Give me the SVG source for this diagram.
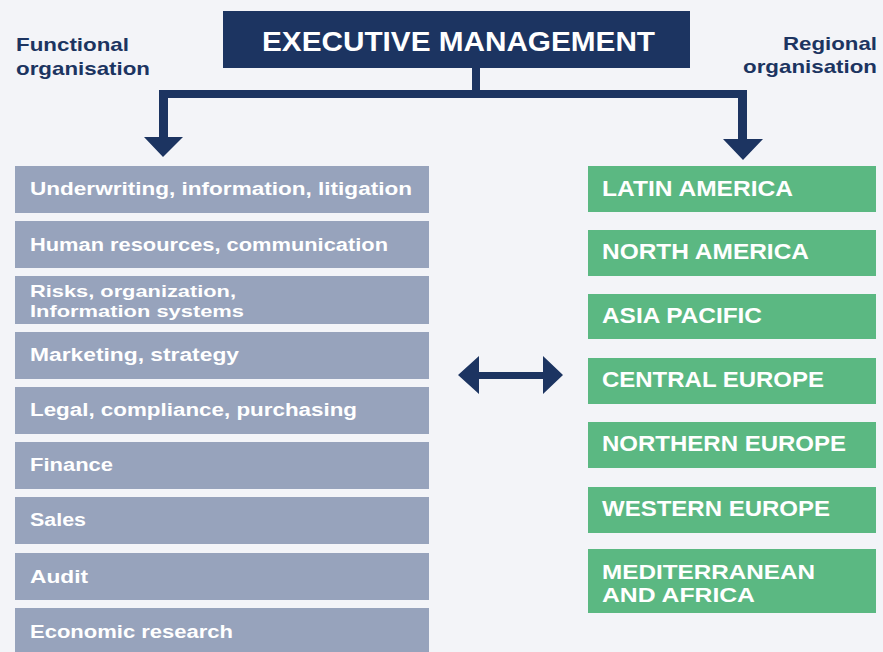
<svg xmlns="http://www.w3.org/2000/svg" width="883" height="652" viewBox="0 0 883 652">
<style>
.bg{fill:#f3f4f8}
.navy{fill:#1c3461}
.fbox{fill:#97a3bc}
.rbox{fill:#5bb882}
.t{font-family:"Liberation Sans",Arial,sans-serif;font-weight:bold;fill:#ffffff}
.ft{font-size:18px}
.rt{font-size:22px}
.lab{font-family:"Liberation Sans",Arial,sans-serif;font-weight:bold;font-size:19px;fill:#1c3461}
</style>
<rect class="bg" x="0" y="0" width="883" height="652"/>
<g id="label-functional">
<text class="lab" x="16" y="51" textLength="113" lengthAdjust="spacingAndGlyphs">Functional</text>
<text class="lab" x="16" y="75" textLength="134" lengthAdjust="spacingAndGlyphs">organisation</text>
</g>
<g id="label-regional">
<text class="lab" x="877" y="50" text-anchor="end" textLength="94" lengthAdjust="spacingAndGlyphs">Regional</text>
<text class="lab" x="877" y="73" text-anchor="end" textLength="134" lengthAdjust="spacingAndGlyphs">organisation</text>
</g>
<g id="exec">
<rect class="navy" x="223" y="11" width="467" height="57"/>
<text class="t" x="262" y="51" font-size="28" textLength="393" lengthAdjust="spacingAndGlyphs">EXECUTIVE MANAGEMENT</text>
</g>
<g id="connectors">
<path class="navy" d="M472,68 H480 V90 H747 V139 H763 L743,160 L723,139 H738 V98 H168 V137 H183 L163,157 L144,137 H159 V90 H472 Z"/>
<path class="navy" d="M458,375 L479,356 V372 H543 V356 L563,375 L543,394 V379 H479 V394 Z"/>
</g>
<g id="f1"><rect class="fbox" x="15" y="166" width="414" height="47"/><text class="t ft" x="30" y="195" textLength="382" lengthAdjust="spacingAndGlyphs">Underwriting, information, litigation</text></g>
<g id="f2"><rect class="fbox" x="15" y="221" width="414" height="47"/><text class="t ft" x="30" y="251" textLength="358" lengthAdjust="spacingAndGlyphs">Human resources, communication</text></g>
<g id="f3"><rect class="fbox" x="15" y="276" width="414" height="48"/><text class="t" font-size="17" x="30" y="297" textLength="206" lengthAdjust="spacingAndGlyphs">Risks, organization,</text><text class="t" font-size="17" x="30" y="317" textLength="214" lengthAdjust="spacingAndGlyphs">Information systems</text></g>
<g id="f4"><rect class="fbox" x="15" y="332" width="414" height="47"/><text class="t ft" x="30" y="361" textLength="209" lengthAdjust="spacingAndGlyphs">Marketing, strategy</text></g>
<g id="f5"><rect class="fbox" x="15" y="387" width="414" height="47"/><text class="t ft" x="30" y="416" textLength="327" lengthAdjust="spacingAndGlyphs">Legal, compliance, purchasing</text></g>
<g id="f6"><rect class="fbox" x="15" y="442" width="414" height="47"/><text class="t ft" x="30" y="471" textLength="83" lengthAdjust="spacingAndGlyphs">Finance</text></g>
<g id="f7"><rect class="fbox" x="15" y="497" width="414" height="47"/><text class="t ft" x="30" y="526" textLength="56" lengthAdjust="spacingAndGlyphs">Sales</text></g>
<g id="f8"><rect class="fbox" x="15" y="553" width="414" height="47"/><text class="t ft" x="30" y="583" textLength="58" lengthAdjust="spacingAndGlyphs">Audit</text></g>
<g id="f9"><rect class="fbox" x="15" y="608" width="414" height="47"/><text class="t ft" x="30" y="638" textLength="203" lengthAdjust="spacingAndGlyphs">Economic research</text></g>
<g id="r1"><rect class="rbox" x="588" y="166" width="288" height="46"/><text class="t rt" x="602" y="196" textLength="191" lengthAdjust="spacingAndGlyphs">LATIN AMERICA</text></g>
<g id="r2"><rect class="rbox" x="588" y="230" width="288" height="46"/><text class="t rt" x="602" y="259" textLength="207" lengthAdjust="spacingAndGlyphs">NORTH AMERICA</text></g>
<g id="r3"><rect class="rbox" x="588" y="294" width="288" height="45"/><text class="t rt" x="602" y="323" textLength="160" lengthAdjust="spacingAndGlyphs">ASIA PACIFIC</text></g>
<g id="r4"><rect class="rbox" x="588" y="358" width="288" height="46"/><text class="t rt" x="602" y="387" textLength="222" lengthAdjust="spacingAndGlyphs">CENTRAL EUROPE</text></g>
<g id="r5"><rect class="rbox" x="588" y="422" width="288" height="46"/><text class="t rt" x="602" y="451" textLength="244" lengthAdjust="spacingAndGlyphs">NORTHERN EUROPE</text></g>
<g id="r6"><rect class="rbox" x="588" y="487" width="288" height="46"/><text class="t rt" x="602" y="516" textLength="228" lengthAdjust="spacingAndGlyphs">WESTERN EUROPE</text></g>
<g id="r7"><rect class="rbox" x="588" y="549" width="288" height="64"/><text class="t" font-size="20" x="602" y="579" textLength="213" lengthAdjust="spacingAndGlyphs">MEDITERRANEAN</text><text class="t" font-size="20" x="602" y="602" textLength="153" lengthAdjust="spacingAndGlyphs">AND AFRICA</text></g>
</svg>
